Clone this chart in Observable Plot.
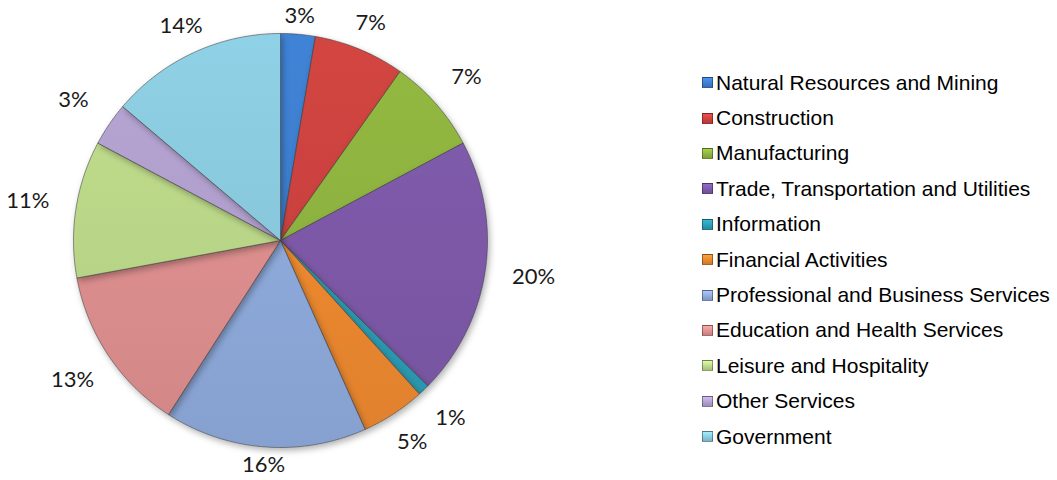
<!DOCTYPE html>
<html>
<head>
<meta charset="utf-8">
<script src="https://cdn.jsdelivr.net/npm/d3@7"></script>
<script src="https://cdn.jsdelivr.net/npm/@observablehq/plot@0.6"></script>
<style>
  body { margin: 0; background: #fff; }
  #wrap { position: relative; width: 1057px; height: 480px; overflow: hidden; background: #fff; }
  #pie { position: absolute; left: 0; top: 0; }
  #legend { position: absolute; left: 702px; top: 65px; font-family: "Liberation Sans", Arial, sans-serif; font-size: 21px; color: #000; }
  #legend .row { height: 35.4px; display: flex; align-items: center; white-space: nowrap; }
  #legend .sw { width: 11px; height: 11px; margin-right: 3px; border: 1px solid rgba(0,0,0,0.35); box-sizing: border-box; }
</style>
</head>
<body>
<div id="wrap">
  <div id="pie"></div>
  <div id="legend"></div>
</div>
<script>
// ---- data ----
const categories = [
  "Natural Resources and Mining",
  "Construction",
  "Manufacturing",
  "Trade, Transportation and Utilities",
  "Information",
  "Financial Activities",
  "Professional and Business Services",
  "Education and Health Services",
  "Leisure and Hospitality",
  "Other Services",
  "Government"
];
const shares = [2.7, 7.1, 7.4, 20.2, 0.9, 5.0, 15.8, 13.0, 10.7, 3.4, 13.8];
const colors = [
  "#3d7ccb", "#c8413e", "#8cb03f", "#7b58a6", "#2c9ab2", "#ea872f",
  "#8ca8d8", "#da8d8c", "#b8d487", "#ae9dcb", "#88c6da"
];

// ---- layout ----
const W = 660, H = 480;
const CX = 280, CY = 240, R = 207;

const arcs = d3.pie().sort(null).value(d => d)(shares);

function pt(a, r) { return { x: r * Math.sin(a), y: -r * Math.cos(a) }; }

const slices = arcs.map((a, i) => {
  const pts = [{ ...pt(0, 0), k: i }];
  const n = Math.max(2, Math.ceil((a.endAngle - a.startAngle) / (Math.PI / 360)));
  for (let j = 0; j <= n; j++) {
    const ang = a.startAngle + (a.endAngle - a.startAngle) * j / n;
    pts.push({ ...pt(ang, R), k: i });
  }
  pts.push({ ...pt(0, 0), k: i });
  return pts;
});

const labels = arcs.map((a, i) => {
  const mid = (a.startAngle + a.endAngle) / 2;
  const rl = R + 16 + 33 * Math.abs(Math.sin(mid));
  return { ...pt(mid, rl), text: Math.round(shares[i]) + "%" };
});

const sliceMarks = slices.map((pts, i) =>
  Plot.line(pts, {
    x: "x", y: "y",
    fill: `url(#g${i})`,
    stroke: "#3a3a3a", strokeOpacity: 0.55, strokeWidth: 1,
    strokeLinejoin: "round", curve: "linear"
  })
);

const chart = Plot.plot({
  width: W, height: H,
  margin: 0,
  x: { domain: [-CX, W - CX], range: [0, W], axis: null },
  y: { domain: [-CY, H - CY], range: [0, H], axis: null },
  marks: [
    ...sliceMarks,
    Plot.text(labels, {
      x: "x", y: "y", text: "text",
      fontSize: 22, fontFamily: "Lato, 'Open Sans', sans-serif",
      fill: "#1a1a1a", textAnchor: "middle", lineAnchor: "middle"
    })
  ]
});

// gradients and shadow
const svg = d3.select(chart);
const defs = svg.insert("defs", ":first-child");
colors.forEach((c, i) => {
  const g = defs.append("linearGradient").attr("id", "g" + i)
    .attr("gradientUnits", "userSpaceOnUse")
    .attr("x1", CX).attr("y1", CY - R).attr("x2", CX).attr("y2", CY + R);
  g.append("stop").attr("offset", "0%").attr("stop-color", d3.color(c).brighter(0.15).formatHex());
  g.append("stop").attr("offset", "100%").attr("stop-color", d3.color(c).darker(0.12).formatHex());
});
const filt = defs.append("filter").attr("id", "shadow").attr("x", "-20%").attr("y", "-20%").attr("width", "140%").attr("height", "140%");
filt.append("feDropShadow").attr("dx", 2).attr("dy", 3).attr("stdDeviation", 3).attr("flood-color", "#000").attr("flood-opacity", 0.3);
svg.selectAll('g[aria-label="line"]').attr("filter", "url(#shadow)");

document.getElementById("pie").appendChild(chart);

// legend
const leg = d3.select("#legend");
categories.forEach((c, i) => {
  const row = leg.append("div").attr("class", "row");
  const col = d3.color(colors[i]);
  row.append("div").attr("class", "sw")
    .style("background", `linear-gradient(${col.brighter(0.5).formatHex()}, ${col.darker(0.3).formatHex()})`);
  row.append("span").text(c);
});
</script>
</body>
</html>
